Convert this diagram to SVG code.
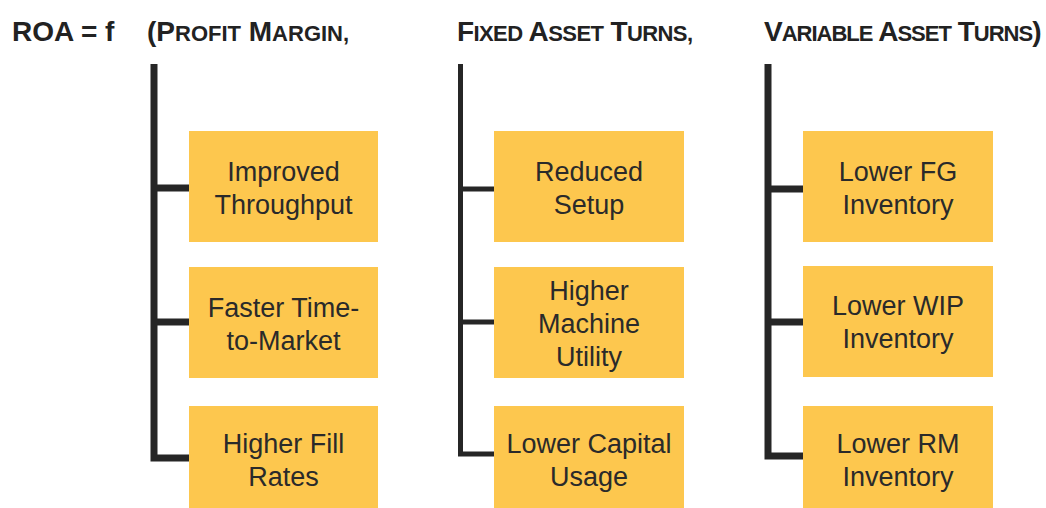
<svg xmlns="http://www.w3.org/2000/svg" width="1046" height="508" viewBox="0 0 1046 508">
  <style>
    .hdr { font-family: "Liberation Sans", Arial, sans-serif; font-weight: bold; font-size: 28px; fill: #222; }
    .sc { font-size: 22px; }
    .box { fill: #FDC74E; }
    .lbl { font-family: "Liberation Sans", Arial, sans-serif; font-size: 27px; fill: #2a2a2a; text-anchor: middle; }
    .trunk { stroke: #262626; fill: none; stroke-linejoin: miter; stroke-linecap: butt; }
  </style>

  <!-- formula header -->
  <g id="header">
    <text class="hdr" x="12" y="41">ROA = f</text>
    <text class="hdr" x="147" y="41">(P<tspan class="sc">ROFIT</tspan> M<tspan class="sc">ARGIN,</tspan></text>
    <text class="hdr" x="457" y="41" letter-spacing="-0.6">F<tspan class="sc">IXED</tspan> A<tspan class="sc">SSET</tspan> T<tspan class="sc">URNS,</tspan></text>
    <text class="hdr" x="764" y="41" letter-spacing="-1">V<tspan class="sc">ARIABLE</tspan> A<tspan class="sc">SSET</tspan> T<tspan class="sc">URNS</tspan>)</text>
  </g>

  <!-- tree connectors -->
  <g id="connectors">
    <path class="trunk" stroke-width="7" d="M154,64 V458 H189 M154,188 H189 M154,322 H189"/>
    <path class="trunk" stroke-width="5" d="M460.5,64 V454 H494 M460.5,189 H494 M460.5,322 H494"/>
    <path class="trunk" stroke-width="7" d="M768,64 V456 H803 M768,189 H803 M768,322 H803"/>
  </g>

  <!-- profit margin drivers -->
  <g id="improved-throughput">
    <rect class="box" x="189" y="131" width="189" height="111"/>
    <text class="lbl" x="283.5" y="181">Improved</text>
    <text class="lbl" x="283.5" y="214">Throughput</text>
  </g>
  <g id="faster-time-to-market">
    <rect class="box" x="189" y="267" width="189" height="111"/>
    <text class="lbl" x="283.5" y="317">Faster Time-</text>
    <text class="lbl" x="283.5" y="350">to-Market</text>
  </g>
  <g id="higher-fill-rates">
    <rect class="box" x="189" y="406" width="189" height="102"/>
    <text class="lbl" x="283.5" y="453">Higher Fill</text>
    <text class="lbl" x="283.5" y="486">Rates</text>
  </g>

  <!-- fixed asset turn drivers -->
  <g id="reduced-setup">
    <rect class="box" x="494" y="131" width="190" height="111"/>
    <text class="lbl" x="589" y="181">Reduced</text>
    <text class="lbl" x="589" y="214">Setup</text>
  </g>
  <g id="higher-machine-utility">
    <rect class="box" x="494" y="267" width="190" height="111"/>
    <text class="lbl" x="589" y="300">Higher</text>
    <text class="lbl" x="589" y="333">Machine</text>
    <text class="lbl" x="589" y="366">Utility</text>
  </g>
  <g id="lower-capital-usage">
    <rect class="box" x="494" y="406" width="190" height="102"/>
    <text class="lbl" x="589" y="453">Lower Capital</text>
    <text class="lbl" x="589" y="486">Usage</text>
  </g>

  <!-- variable asset turn drivers -->
  <g id="lower-fg-inventory">
    <rect class="box" x="803" y="131" width="190" height="111"/>
    <text class="lbl" x="898" y="181">Lower FG</text>
    <text class="lbl" x="898" y="214">Inventory</text>
  </g>
  <g id="lower-wip-inventory">
    <rect class="box" x="803" y="266" width="190" height="111"/>
    <text class="lbl" x="898" y="315">Lower WIP</text>
    <text class="lbl" x="898" y="348">Inventory</text>
  </g>
  <g id="lower-rm-inventory">
    <rect class="box" x="803" y="406" width="190" height="102"/>
    <text class="lbl" x="898" y="453">Lower RM</text>
    <text class="lbl" x="898" y="486">Inventory</text>
  </g>
</svg>
